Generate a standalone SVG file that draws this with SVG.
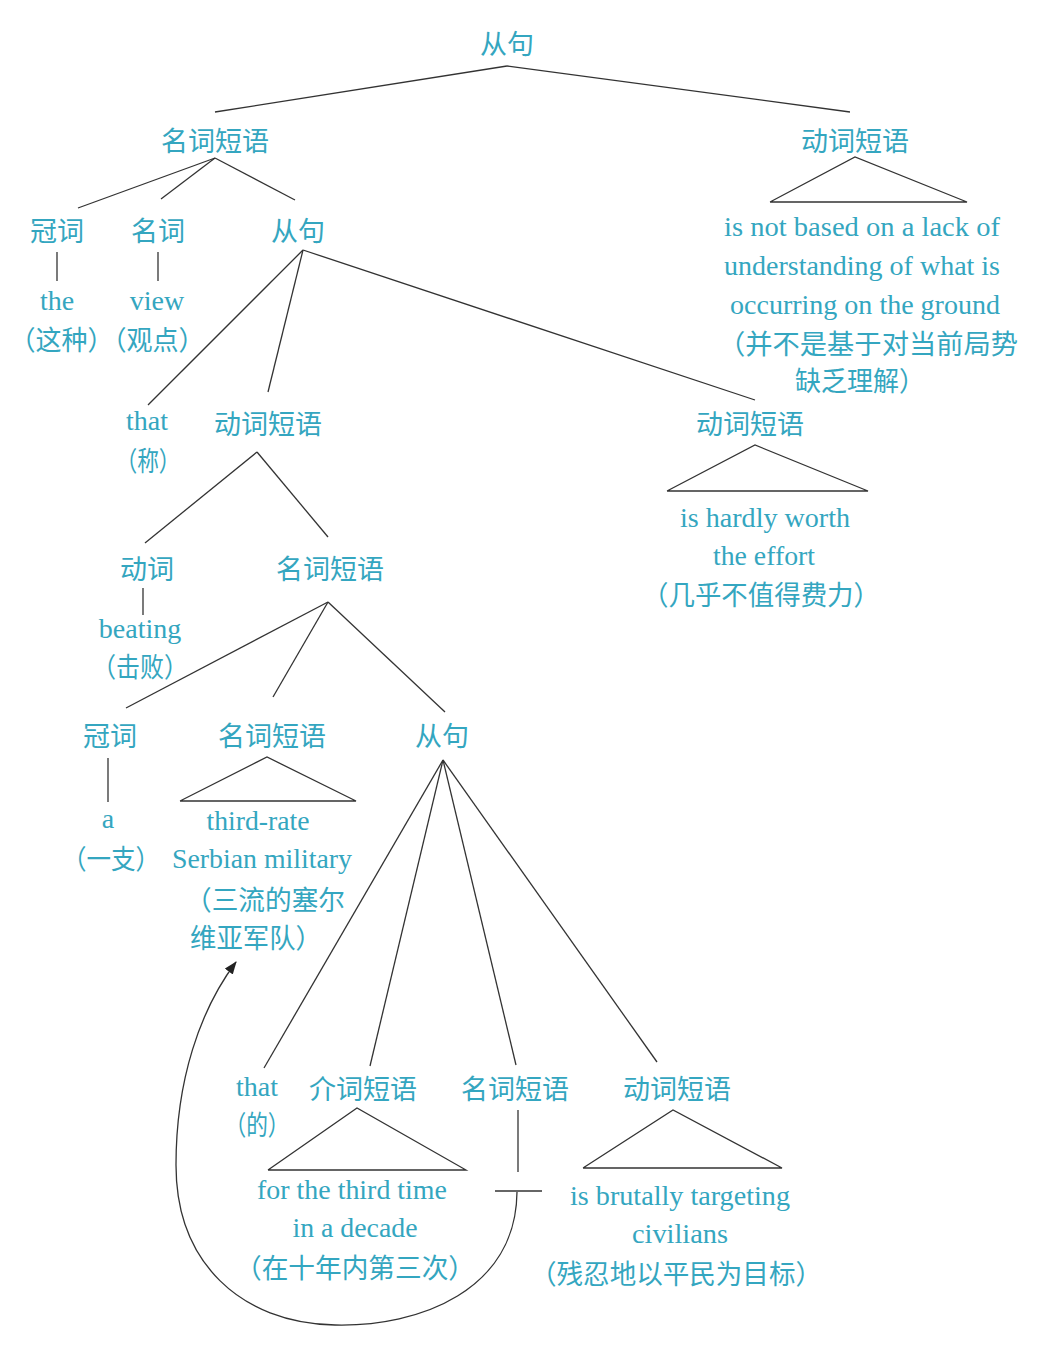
<svg xmlns="http://www.w3.org/2000/svg" width="1046" height="1356" viewBox="0 0 1046 1356">
<defs>
<style>
.zh{font-family:"Noto Sans CJK SC","Noto Sans",sans-serif;font-size:27px;fill:#34a6c0;text-anchor:middle;dominant-baseline:central}
.en{font-family:"Liberation Serif","Times New Roman",serif;font-size:28px;fill:#34a6c0;text-anchor:middle;dominant-baseline:central}
.ln{stroke:#333;stroke-width:1.3;fill:none}
</style>
<marker id="arr" viewBox="0 0 12 10" refX="11" refY="5" markerWidth="13" markerHeight="11" orient="auto" markerUnits="userSpaceOnUse">
<path d="M0,0.5 L12,5 L0,9.5 Z" fill="#222"/>
</marker>
</defs>
<rect width="1046" height="1356" fill="#fff"/>

<g id="connectors" class="ln">
<line x1="507" y1="66" x2="215" y2="112"/>
<line x1="507" y1="66" x2="850" y2="112"/>
<polyline points="770,202 855,157 967,202 770,202"/>
<line x1="215" y1="158" x2="78" y2="208"/>
<line x1="215" y1="158" x2="161" y2="199"/>
<line x1="215" y1="158" x2="295" y2="200"/>
<line x1="57" y1="252" x2="57" y2="281"/>
<line x1="158" y1="252" x2="158" y2="281"/>
<line x1="303" y1="250" x2="148" y2="405"/>
<line x1="303" y1="250" x2="268" y2="392"/>
<line x1="303" y1="250" x2="755" y2="400"/>
<polyline points="667,491 755,445 868,491 667,491"/>
<line x1="257" y1="452" x2="145" y2="543"/>
<line x1="257" y1="452" x2="328" y2="537"/>
<line x1="143" y1="588" x2="143" y2="615"/>
<line x1="328" y1="602" x2="126" y2="708"/>
<line x1="328" y1="602" x2="273" y2="697"/>
<line x1="328" y1="602" x2="445" y2="712"/>
<line x1="108" y1="758" x2="108" y2="802"/>
<polyline points="180,801 267,757 356,801 180,801"/>
<line x1="443" y1="760" x2="264" y2="1068"/>
<line x1="443" y1="760" x2="370" y2="1066"/>
<line x1="443" y1="760" x2="516" y2="1065"/>
<line x1="443" y1="760" x2="657" y2="1062"/>
<polyline points="268,1170 357,1108 466,1170 268,1170"/>
<line x1="518" y1="1110" x2="518" y2="1172"/>
<line x1="495" y1="1191" x2="542" y2="1191"/>
<polyline points="583,1168 673,1110 782,1168 583,1168"/>
<path d="M517,1192 C516,1290 420,1327 335,1325 C240,1323 176,1262 176,1165 C176,1080 200,1010 236,962" marker-end="url(#arr)"/>
</g>

<g id="root"><text class="zh" x="507" y="42">从句</text></g>
<g id="np1"><text class="zh" x="215" y="139">名词短语</text></g>
<g id="vp1"><text class="zh" x="855" y="139">动词短语</text></g>
<g id="vp1-text">
<text class="en" x="862" y="226" textLength="276" lengthAdjust="spacingAndGlyphs">is not based on a lack of</text>
<text class="en" x="862" y="265" textLength="276" lengthAdjust="spacingAndGlyphs">understanding of what is</text>
<text class="en" x="865" y="304" textLength="270" lengthAdjust="spacingAndGlyphs">occurring on the ground</text>
<text class="zh" x="868" y="342" textLength="300" lengthAdjust="spacingAndGlyphs">（并不是基于对当前局势</text>
<text class="zh" x="860" y="379" textLength="130" lengthAdjust="spacingAndGlyphs">缺乏理解）</text>
</g>
<g id="det1"><text class="zh" x="57" y="229">冠词</text></g>
<g id="n1"><text class="zh" x="158" y="229">名词</text></g>
<g id="cl1"><text class="zh" x="298" y="229">从句</text></g>
<g id="the"><text class="en" x="57" y="300">the</text></g>
<g id="view"><text class="en" x="157" y="300">view</text></g>
<g id="gloss1"><text class="zh" x="107" y="338" textLength="195" lengthAdjust="spacingAndGlyphs">（这种）（观点）</text></g>
<g id="that1"><text class="en" x="147" y="420">that</text><text class="zh" x="148" y="459" textLength="65" lengthAdjust="spacingAndGlyphs">（称）</text></g>
<g id="vp2"><text class="zh" x="268" y="422">动词短语</text></g>
<g id="vp3"><text class="zh" x="750" y="422">动词短语</text></g>
<g id="vp3-text">
<text class="en" x="765" y="517" textLength="170" lengthAdjust="spacingAndGlyphs">is hardly worth</text>
<text class="en" x="764" y="555" textLength="102" lengthAdjust="spacingAndGlyphs">the effort</text>
<text class="zh" x="761" y="593" textLength="238" lengthAdjust="spacingAndGlyphs">（几乎不值得费力）</text>
</g>
<g id="v1"><text class="zh" x="147" y="567">动词</text></g>
<g id="beating"><text class="en" x="140" y="628">beating</text><text class="zh" x="140" y="665" textLength="96" lengthAdjust="spacingAndGlyphs">（击败）</text></g>
<g id="np2"><text class="zh" x="330" y="567">名词短语</text></g>
<g id="det2"><text class="zh" x="110" y="734">冠词</text></g>
<g id="a"><text class="en" x="108" y="818">a</text><text class="zh" x="111" y="857" textLength="98" lengthAdjust="spacingAndGlyphs">（一支）</text></g>
<g id="np3"><text class="zh" x="272" y="734">名词短语</text></g>
<g id="np3-text">
<text class="en" x="258" y="820" textLength="103" lengthAdjust="spacingAndGlyphs">third-rate</text>
<text class="en" x="262" y="858" textLength="180" lengthAdjust="spacingAndGlyphs">Serbian military</text>
<text class="zh" x="265" y="898" textLength="160" lengthAdjust="spacingAndGlyphs">（三流的塞尔</text>
<text class="zh" x="256" y="936" textLength="132" lengthAdjust="spacingAndGlyphs">维亚军队）</text>
</g>
<g id="cl2"><text class="zh" x="442" y="734">从句</text></g>
<g id="that2"><text class="en" x="257" y="1086">that</text><text class="zh" x="257" y="1123" textLength="65" lengthAdjust="spacingAndGlyphs">（的）</text></g>
<g id="pp"><text class="zh" x="363" y="1087">介词短语</text></g>
<g id="pp-text">
<text class="en" x="352" y="1189" textLength="190" lengthAdjust="spacingAndGlyphs">for the third time</text>
<text class="en" x="355" y="1227" textLength="125" lengthAdjust="spacingAndGlyphs">in a decade</text>
<text class="zh" x="355" y="1266" textLength="240" lengthAdjust="spacingAndGlyphs">（在十年内第三次）</text>
</g>
<g id="np4"><text class="zh" x="515" y="1087">名词短语</text></g>
<g id="vp4"><text class="zh" x="677" y="1087">动词短语</text></g>
<g id="vp4-text">
<text class="en" x="680" y="1195" textLength="220" lengthAdjust="spacingAndGlyphs">is brutally targeting</text>
<text class="en" x="680" y="1233" textLength="96" lengthAdjust="spacingAndGlyphs">civilians</text>
<text class="zh" x="676" y="1272" textLength="292" lengthAdjust="spacingAndGlyphs">（残忍地以平民为目标）</text>
</g>
</svg>
